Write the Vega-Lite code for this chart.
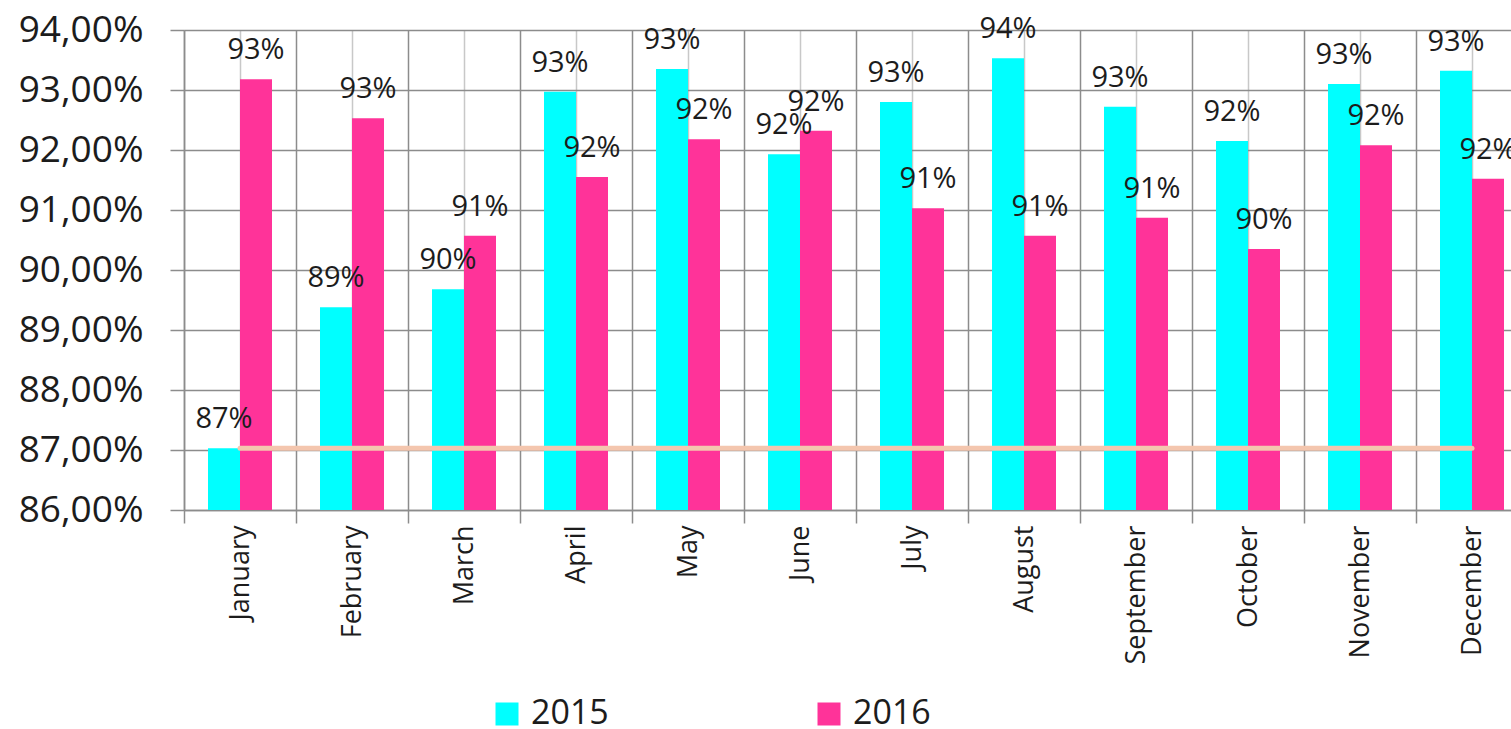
{
  "$schema": "https://vega.github.io/schema/vega-lite/v6.json",
  "autosize": "none",
  "width": 1344,
  "height": 480,
  "padding": {"left": 184, "top": 30, "right": -17, "bottom": 219},
  "background": "white",
  "datasets": {
    "bars": [
      {"month": "January", "year": "2015", "value": 0.8703},
      {"month": "January", "year": "2016", "value": 0.9318},
      {"month": "February", "year": "2015", "value": 0.8938},
      {"month": "February", "year": "2016", "value": 0.9253},
      {"month": "March", "year": "2015", "value": 0.8968},
      {"month": "March", "year": "2016", "value": 0.9057},
      {"month": "April", "year": "2015", "value": 0.9297},
      {"month": "April", "year": "2016", "value": 0.9155},
      {"month": "May", "year": "2015", "value": 0.9335},
      {"month": "May", "year": "2016", "value": 0.9218},
      {"month": "June", "year": "2015", "value": 0.9193},
      {"month": "June", "year": "2016", "value": 0.9232},
      {"month": "July", "year": "2015", "value": 0.928},
      {"month": "July", "year": "2016", "value": 0.9103},
      {"month": "August", "year": "2015", "value": 0.9353},
      {"month": "August", "year": "2016", "value": 0.9057},
      {"month": "September", "year": "2015", "value": 0.9272},
      {"month": "September", "year": "2016", "value": 0.9087},
      {"month": "October", "year": "2015", "value": 0.9215},
      {"month": "October", "year": "2016", "value": 0.9035},
      {"month": "November", "year": "2015", "value": 0.931},
      {"month": "November", "year": "2016", "value": 0.9208},
      {"month": "December", "year": "2015", "value": 0.9332},
      {"month": "December", "year": "2016", "value": 0.9152}
    ],
    "target": [
      {"month": "January", "target": 0.8703},
      {"month": "February", "target": 0.8703},
      {"month": "March", "target": 0.8703},
      {"month": "April", "target": 0.8703},
      {"month": "May", "target": 0.8703},
      {"month": "June", "target": 0.8703},
      {"month": "July", "target": 0.8703},
      {"month": "August", "target": 0.8703},
      {"month": "September", "target": 0.8703},
      {"month": "October", "target": 0.8703},
      {"month": "November", "target": 0.8703},
      {"month": "December", "target": 0.8703}
    ]
  },
  "layer": [
    {
      "data": {"name": "bars"},
      "mark": {"type": "bar"},
      "encoding": {
        "x": {
          "field": "month", "type": "nominal",
          "scale": {"domain": ["January","February","March","April","May","June","July","August","September","October","November","December"], "paddingInner": 0, "paddingOuter": 0},
          "axis": {
            "orient": "bottom", "title": null, "labelAngle": -90,
            "labelFontSize": 27, "labelFont": "Open Sans", "labelColor": "#1c1c1c",
            "tickBand": "extent", "tickSize": 13, "tickColor": "#8c8c8c", "tickWidth": 1.5,
            "grid": true, "gridColor": "#8c8c8c", "gridWidth": 1.5,
            "domainColor": "#8c8c8c", "domainWidth": 1.5, "labelPadding": 2
          }
        },
        "xOffset": {"field": "year", "type": "nominal", "scale": {"paddingInner": 0, "paddingOuter": 0.75}},
        "y": {
          "field": "value", "type": "quantitative",
          "scale": {"domain": [0.86, 0.94], "zero": false, "nice": false},
          "axis": {
            "title": null, "values": [0.86, 0.87, 0.88, 0.89, 0.9, 0.91, 0.92, 0.93, 0.94],
            "labelExpr": "replace(format(datum.value, '.2%'), '.', ',')",
            "labelFontSize": 37, "labelFont": "Open Sans", "labelColor": "#1c1c1c",
            "tickSize": 14, "tickColor": "#8c8c8c", "tickWidth": 1.5, "labelPadding": 27,
            "grid": true, "gridColor": "#8c8c8c", "gridWidth": 1.5,
            "domainColor": "#8c8c8c", "domainWidth": 1.5
          }
        },
        "y2": {"datum": 0.86},
        "color": {
          "field": "year", "type": "nominal",
          "scale": {"domain": ["2015", "2016"], "range": ["#00FFFF", "#FF3399"]},
          "legend": {
            "orient": "none", "legendX": 306, "legendY": 667, "direction": "horizontal",
            "title": null, "symbolType": "square", "symbolSize": 529, "symbolStrokeWidth": 0,
            "symbolOpacity": 1,
            "labelFontSize": 34, "labelFont": "Open Sans", "labelColor": "#1c1c1c",
            "columnPadding": 203, "labelOffset": 7
          }
        }
      }
    },
    {
      "data": {"name": "bars"},
      "mark": {"type": "text", "baseline": "alphabetic", "dy": -20, "fontSize": 29, "font": "Open Sans", "color": "#1c1c1c"},
      "encoding": {
        "x": {"field": "month", "type": "nominal", "axis": null},
        "xOffset": {"field": "year", "type": "nominal"},
        "y": {"field": "value", "type": "quantitative"},
        "text": {"field": "value", "type": "quantitative", "format": ".0%"}
      }
    },
    {
      "data": {"name": "target"},
      "mark": {"type": "line", "color": "#F4C6AE", "strokeWidth": 5, "strokeCap": "round"},
      "encoding": {
        "x": {
          "field": "month", "type": "nominal",
          "axis": {"orient": "top", "title": null, "labels": false, "ticks": false, "domain": false, "grid": true, "gridColor": "#c8c8c8", "gridWidth": 1.5}
        },
        "y": {"field": "target", "type": "quantitative"}
      }
    }
  ],
  "resolve": {"axis": {"x": "independent"}},
  "config": {"view": {"stroke": null}}
}
